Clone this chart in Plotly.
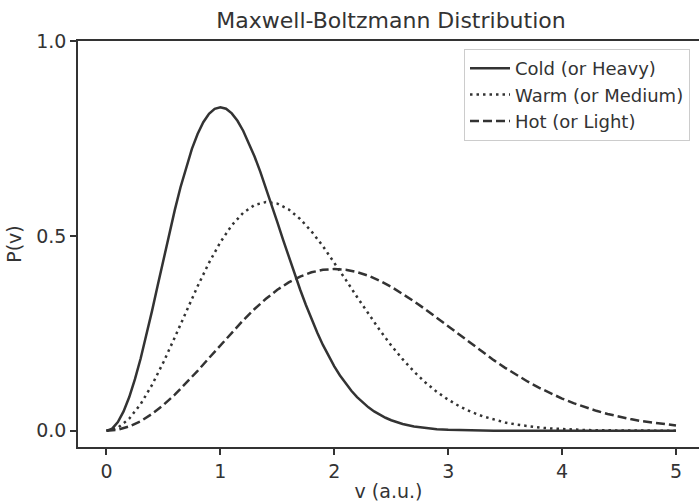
import plotly.graph_objects as go

# speed grid for the warm and hot curves
v = [0.0, 0.1, 0.2, 0.3, 0.4, 0.5, 0.6, 0.7, 0.8, 0.9, 1.0, 1.1, 1.2, 1.3, 1.4, 1.5,
     1.6, 1.7, 1.8, 1.9, 2.0, 2.1, 2.2, 2.3, 2.4, 2.5, 2.6, 2.7, 2.8, 2.9, 3.0, 3.1,
     3.2, 3.3, 3.4, 3.5, 3.6, 3.7, 3.8, 3.9, 4.0, 4.1, 4.2, 4.3, 4.4, 4.5, 4.6, 4.7,
     4.8, 4.9, 5.0]

# finer speed grid for the sharp cold curve
v_cold = [0.0, 0.05, 0.1, 0.15, 0.2, 0.25, 0.3, 0.35, 0.4, 0.45, 0.5, 0.55, 0.6, 0.65,
          0.7, 0.75, 0.8, 0.85, 0.9, 0.95, 1.0, 1.05, 1.1, 1.15, 1.2, 1.25, 1.3, 1.35,
          1.4, 1.45, 1.5, 1.55, 1.6, 1.65, 1.7, 1.75, 1.8, 1.85, 1.9, 1.95, 2.0, 2.05,
          2.1, 2.15, 2.2, 2.25, 2.3, 2.35, 2.4, 2.45, 2.5,
          2.6, 2.7, 2.8, 2.9, 3.0, 3.1, 3.2, 3.3, 3.4, 3.5, 3.6, 3.7, 3.8, 3.9, 4.0,
          4.1, 4.2, 4.3, 4.4, 4.5, 4.6, 4.7, 4.8, 4.9, 5.0]

cold = [0.0, 0.0056, 0.0223, 0.0497, 0.0867, 0.1325, 0.1856, 0.2446, 0.3077, 0.3732,
        0.4394, 0.5045, 0.5668, 0.6249, 0.6775, 0.7233, 0.7616, 0.7917, 0.8132, 0.8260,
        0.8302, 0.8262, 0.8143, 0.7953, 0.7699, 0.7391, 0.7038, 0.6648, 0.6233, 0.5796,
        0.5352, 0.4905, 0.4466, 0.4037, 0.3625, 0.3233, 0.2863, 0.2520, 0.2204, 0.1915,
        0.1654, 0.1419, 0.1210, 0.1026, 0.0864, 0.0723, 0.0602, 0.0498, 0.0410, 0.0335,
        0.0272,
        0.0177, 0.0112, 0.0070, 0.0042, 0.0025, 0.0015, 0.0008, 0.0005, 0.0003, 0.0002,
        0.0001, 0.0, 0.0, 0.0, 0.0, 0.0, 0.0, 0.0, 0.0, 0.0, 0.0, 0.0, 0.0, 0.0, 0.0]

warm = [0.0, 0.0079, 0.0313, 0.0687, 0.1178, 0.1760, 0.2399, 0.3060, 0.3708, 0.4311,
        0.4839, 0.5272, 0.5593, 0.5793, 0.5869, 0.5829, 0.5679, 0.5435, 0.5116, 0.4737,
        0.4319, 0.3879, 0.3434, 0.2997, 0.2580, 0.2191, 0.1837, 0.1519, 0.1241, 0.1001,
        0.0798, 0.0628, 0.0488, 0.0375, 0.0285, 0.0214, 0.0159, 0.0116, 0.0084, 0.0060,
        0.0043, 0.0030, 0.0021, 0.0014, 0.0010, 0.0007, 0.0004, 0.0003, 0.0002, 0.0001,
        0.0001]

hot = [0.0, 0.0028, 0.0112, 0.0248, 0.0434, 0.0663, 0.0928, 0.1223, 0.1538, 0.1866,
       0.2197, 0.2523, 0.2834, 0.3125, 0.3387, 0.3617, 0.3808, 0.3958, 0.4066, 0.4131,
       0.4151, 0.4132, 0.4071, 0.3977, 0.3850, 0.3696, 0.3518, 0.3323, 0.3116, 0.2898,
       0.2676, 0.2453, 0.2233, 0.2018, 0.1813, 0.1616, 0.1432, 0.1260, 0.1102, 0.0958,
       0.0827, 0.0709, 0.0605, 0.0513, 0.0432, 0.0362, 0.0301, 0.0249, 0.0205, 0.0168,
       0.0136]

series_names = ["Cold (or Heavy)", "Warm (or Medium)", "Hot (or Light)"]
x_ticks = [0, 1, 2, 3, 4, 5]
y_ticks = [0.0, 0.5, 1.0]
y_tick_text = ["0.0", "0.5", "1.0"]

LINE = "#333333"
TEXT = "#333333"
FONT = "DejaVu Sans"

fig = go.Figure()
dashes = ["solid", "2.5px,4px", "9px,4px"]
for name, xs, ys, d in zip(series_names, [v_cold, v, v], [cold, warm, hot], dashes):
    fig.add_trace(go.Scatter(
        x=xs, y=ys, mode="lines", name=name,
        line=dict(color=LINE, width=2.5, dash=d, shape="linear"),
    ))

fig.update_layout(
    width=699, height=502,
    margin=dict(l=78, r=0, t=41, b=55),
    paper_bgcolor="white", plot_bgcolor="white",
    font=dict(family=FONT, size=19, color=TEXT),
    title=dict(text="Maxwell-Boltzmann Distribution", x=391/699, xanchor="center",
               y=1 - 20/502, yanchor="middle", yref="container",
               font=dict(size=22, color=TEXT, family=FONT)),
    showlegend=True,
    legend=dict(x=(690-78)/621, xanchor="right", y=1 - 8/406, yanchor="top",
                bgcolor="rgba(255,255,255,0.8)", bordercolor="#cccccc", borderwidth=1,
                font=dict(size=18, color=TEXT, family=FONT), itemwidth=40,
                tracegroupgap=0),
    xaxis=dict(range=[-0.25, 5.202], tickvals=x_ticks, ticks="outside", ticklen=6,
               tickwidth=1.5, tickcolor=TEXT, showline=True, linecolor=TEXT, linewidth=1.5,
               mirror=True, showgrid=False, zeroline=False,
               tickfont=dict(size=19),
               title=dict(text="v (a.u.)", standoff=6, font=dict(size=19, color=TEXT))),
    yaxis=dict(range=[-0.0415, 1.0], tickvals=y_ticks, ticktext=y_tick_text,
               ticks="outside", ticklen=6, tickwidth=1.5, tickcolor=TEXT,
               showline=True, linecolor=TEXT, linewidth=1.5, mirror=False,
               showgrid=False, zeroline=False, tickfont=dict(size=19),
               title=dict(text="P(v)", standoff=10, font=dict(size=19, color=TEXT))),
)

fig.write_html("out.html")
